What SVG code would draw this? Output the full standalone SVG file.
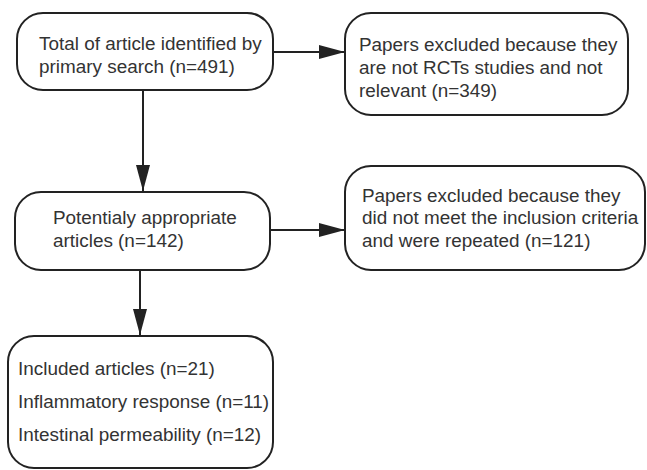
<svg xmlns="http://www.w3.org/2000/svg" width="647" height="470" viewBox="0 0 647 470">
<style>
.box{fill:#fff;stroke:#222;stroke-width:2}
.t{font-family:"Liberation Sans",Arial,sans-serif;font-size:18.9px;fill:#333}
.c{stroke:#222;stroke-width:2;fill:none}
</style>
<defs>
<marker id="ah" markerWidth="26" markerHeight="14" refX="26" refY="7" orient="auto" markerUnits="userSpaceOnUse">
<path d="M0,0 L26,7 L0,14 Z" fill="#222"/>
</marker>
</defs>
<rect width="647" height="470" fill="#fff"/>
<g id="connectors">
<line class="c" x1="273" y1="52" x2="345" y2="52" marker-end="url(#ah)"/>
<line class="c" x1="143" y1="90" x2="143" y2="191" marker-end="url(#ah)"/>
<line class="c" x1="270" y1="230" x2="345" y2="230" marker-end="url(#ah)"/>
<line class="c" x1="140" y1="270" x2="140" y2="335" marker-end="url(#ah)"/>
</g>
<g id="n1">
<rect class="box" x="17" y="13" width="256" height="77" rx="26"/>
<text class="t" x="39" y="50">Total of article identified by</text>
<text class="t" x="39" y="73">primary search (n=491)</text>
</g>
<g id="n2">
<rect class="box" x="345" y="13" width="283" height="102" rx="26"/>
<text class="t" x="359" y="51">Papers excluded because they</text>
<text class="t" x="359" y="74">are not RCTs studies and not</text>
<text class="t" x="359" y="97">relevant (n=349)</text>
</g>
<g id="n3">
<rect class="box" x="15" y="192" width="255" height="78" rx="26"/>
<text class="t" x="53" y="224">Potentialy appropriate</text>
<text class="t" x="53" y="247">articles (n=142)</text>
</g>
<g id="n4">
<rect class="box" x="345" y="166" width="300" height="104" rx="26"/>
<text class="t" x="362" y="202">Papers excluded because they</text>
<text class="t" x="362" y="224">did not meet the inclusion criteria</text>
<text class="t" x="362" y="247">and were repeated (n=121)</text>
</g>
<g id="n5">
<rect class="box" x="8" y="336" width="265" height="132" rx="26"/>
<text class="t" x="18" y="375">Included articles (n=21)</text>
<text class="t" x="18" y="408">Inflammatory response (n=11)</text>
<text class="t" x="18" y="441">Intestinal permeability (n=12)</text>
</g>
</svg>
